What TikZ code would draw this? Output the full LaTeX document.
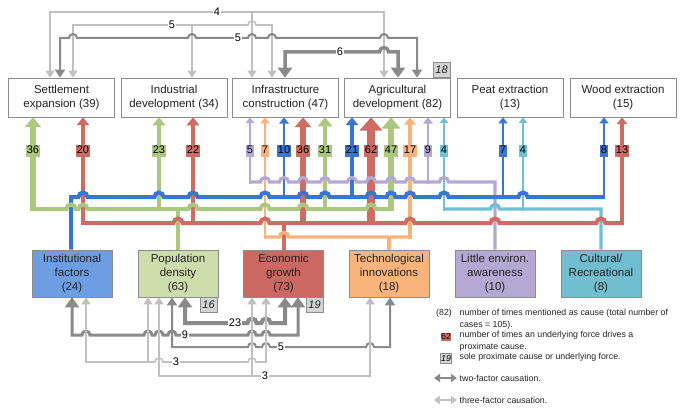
\documentclass[tikz,border=0pt]{standalone}
\usepackage{fontspec}
\setmainfont{Liberation Sans}
\usetikzlibrary{arrows.meta}

\definecolor{cblue}{RGB}{58,118,208}
\definecolor{cgreen}{RGB}{172,199,128}
\definecolor{cred}{RGB}{206,108,100}
\definecolor{corange}{RGB}{249,179,122}
\definecolor{cviolet}{RGB}{182,168,212}
\definecolor{cteal}{RGB}{110,192,210}
\definecolor{fblue}{RGB}{109,158,228}
\definecolor{fgreen}{RGB}{205,222,172}
\definecolor{fred}{RGB}{204,104,98}
\definecolor{forange}{RGB}{249,180,124}
\definecolor{fviolet}{RGB}{182,168,212}
\definecolor{fteal}{RGB}{112,190,208}
\definecolor{boxline}{RGB}{140,140,140}
\definecolor{solefill}{RGB}{212,212,212}
\definecolor{twogray}{RGB}{138,138,138}
\definecolor{threegray}{RGB}{192,192,192}
\definecolor{inktext}{RGB}{35,35,35}

\newcommand\boxfont{\fontsize{11.5}{14.3}\selectfont}
\newcommand\numfont{\fontsize{11}{12}\selectfont}
\newcommand\legfont{\fontsize{8.8}{12.3}\selectfont}

\tikzset{
  ltip/.tip={Triangle[width=9pt,length=7pt]},
  dtip/.tip={Triangle[width=10pt,length=8pt]},
  btip/.tip={Triangle[width=14pt,length=10pt]},
  proxbox/.style={draw=boxline, line width=0.7pt, fill=white, text=inktext,
    minimum width=106pt, minimum height=39pt, inner sep=0pt, align=center, font=\boxfont},
  underbox/.style={draw=boxline, line width=0.7pt, text=inktext,
    minimum width=80pt, minimum height=47pt, inner sep=0pt, align=center, font=\boxfont},
  solebox/.style={draw=boxline, line width=0.6pt, fill=solefill, text=inktext,
    minimum width=17pt, minimum height=15pt, inner sep=0pt, font=\numfont\itshape},
  numlbl/.style={inner xsep=0.7pt, inner ysep=0pt, text height=8.6pt, text depth=2.8pt,
    text=black, font=\numfont},
  glbl/.style={fill=white, inner xsep=0.6pt, inner ysep=0pt, text=black, font=\numfont},
  two/.style={draw=twogray, line width=2pt},
  three/.style={draw=threegray, line width=1.6pt},
  legtxt/.style={inner sep=0pt, align=left, anchor=north west, text=inktext, font=\legfont},
}

\begin{document}
\begin{tikzpicture}[x=1pt,y=1pt,yscale=-1]
\useasboundingbox (0,0) rectangle (683,412);

% proximate causes
\node[proxbox] (se) at (61.5,97.5) {Settlement\\expansion (39)};
\node[proxbox] (id) at (174,97.5) {Industrial\\development (34)};
\node[proxbox] (ic) at (285.5,97.5) {Infrastructure\\construction (47)};
\node[proxbox] (ad) at (397.5,97.5) {Agricultural\\development (82)};
\node[proxbox] (pe) at (510,97.5) {Peat extraction\\(13)};
\node[proxbox] (we) at (623,97.5) {Wood extraction\\(15)};

% underlying forces
\node[underbox, fill=fblue] (inst) at (72,273.5) {Institutional\\factors\\(24)};
\node[underbox, fill=fgreen] (pd) at (178,273.5) {Population\\density\\(63)};
\node[underbox, fill=fred] (eg) at (283.5,273.5) {Economic\\growth\\(73)};
\node[underbox, fill=forange] (ti) at (389,273.5) {Technological\\innovations\\(18)};
\node[underbox, fill=fviolet] (le) at (495,273.5) {Little environ.\\awareness\\(10)};
\node[underbox, fill=fteal] (cr) at (601,273.5) {Cultural/\\Recreational\\(8)};

% arrows from the buses up to the proximate causes
\foreach \x/\yb/\n/\c/\t in {33/209/36/cgreen/se, 83/223/20/cred/se,
    159/209/23/cgreen/id, 193/223/22/cred/id,
    250/182/5/cviolet/ic, 265/237/7/corange/ic, 284/197/10/cblue/ic,
    303/223/36/cred/ic, 325/209/31/cgreen/ic,
    352/197/21/cblue/ad, 371/223/62/cred/ad, 391/209/47/cgreen/ad,
    410/237/17/corange/ad, 428/182/9/cviolet/ad, 444/209/4/cteal/ad,
    503/197/7/cblue/pe, 523/209/4/cteal/pe,
    604/197/8/cblue/we, 622/223/13/cred/we}{
  \pgfmathsetmacro\lw{1.8+0.1*\n}
  \pgfmathsetmacro\tw{2.4*\lw+3}
  \pgfmathsetmacro\tl{0.55*\tw+1}
  \draw[draw=\c, line width=\lw pt, -{Triangle[width=\tw pt,length=\tl pt]}]
    (\x,\yb+1.5) -- (\x,0 |- \t.south);
}

% buses
\draw[cviolet, line width=3.2pt] (250,182)
  \foreach \h in {265,284,303,325,352,371,391,410,444} {-- (\h-4.5,182) arc(180:360:4.5pt)}
  -- (495,182) -- (495,0 |- le.north);
\draw[cblue, line width=4pt] (71,0 |- inst.north) -- (71,197)
  \foreach \h in {83,159,193,265,303,325,371,391,410,444,523} {-- (\h-4.5,197) arc(180:360:4.5pt)}
  -- (604,197);
\draw[cgreen, line width=4pt] (33,209)
  \foreach \h in {71,83,193,265,303,371} {-- (\h-4.5,209) arc(180:360:4.5pt)}
  -- (391,209);
\draw[cgreen, line width=4pt] (178,209) -- (178,0 |- pd.north);
\draw[cteal, line width=3.4pt] (444,209) -- (490.5,209) arc(180:360:4.5pt)
  -- (601,209) -- (601,0 |- cr.north);
\draw[cred, line width=4pt] (83,223)
  \foreach \h in {178,265,410,495,601} {-- (\h-4.5,223) arc(180:360:4.5pt)}
  -- (622,223);
\draw[cred, line width=4pt] (284,223) -- (284,0 |- eg.north);
\draw[corange, line width=3.4pt] (265,237) -- (279.5,237) arc(180:360:4.5pt) -- (410,237);
\draw[corange, line width=3.4pt] (389,237) -- (389,0 |- ti.north);

% counts on the arrows
\foreach \x/\n/\c in {33/36/cgreen, 83/20/cred, 159/23/cgreen, 193/22/cred,
    250/5/cviolet, 265/7/corange, 284/10/cblue, 303/36/cred, 325/31/cgreen,
    352/21/cblue, 371/62/cred, 391/47/cgreen, 410/17/corange, 428/9/cviolet, 444/4/cteal,
    503/7/cblue, 523/4/cteal, 604/8/cblue, 622/13/cred}
  \node[numlbl, fill=\c] (lb\x) at (\x,151) {\n};

% links between proximate causes
\draw[three, ltip-ltip] (50,0 |- se.north) -- (50,12) -- (384,12) -- (384,0 |- ad.north);
\draw[three, -ltip] (252,12) -- (252,0 |- ic.north);
\node[glbl] (top4) at (217,12) {4};
\draw[three, ltip-ltip] (73,0 |- se.north) -- (73,25) -- (248,25) arc(180:360:4pt)
  -- (272,25) -- (272,0 |- ic.north);
\draw[three, -ltip] (192,25) -- (192,0 |- id.north);
\node[glbl] (top5a) at (172,25) {5};
\draw[two, dtip-dtip] (60,0 |- se.north) -- (60,38)
  \foreach \h in {73,192,252,272,384} {-- (\h-4,38) arc(180:360:4pt)}
  -- (417,38) -- (417,0 |- ad.north);
\node[glbl] (top5b) at (238,38) {5};
\draw[two, line width=3.5pt, btip-btip] (285,0 |- ic.north) -- (285,52) -- (379.5,52)
  arc(180:360:4.5pt) -- (398,52) -- (398,0 |- ad.north);
\node[glbl] (top6) at (340,52) {6};

% links between underlying forces
\draw[two, line width=4pt, btip-btip] (185,0 |- pd.south) -- (185,323)
  \foreach \h in {252,266} {-- (\h-4.5,323) arc(180:360:4.5pt)}
  -- (285,323) -- (285,0 |- eg.south);
\node[glbl] (bot23) at (235,323) {23};
\draw[two, line width=3pt, btip-btip] (72,0 |- inst.south) -- (72,335)
  \foreach \h in {86,148,159,172,252,266} {-- (\h-4,335) arc(180:360:4pt)}
  -- (298,335) -- (298,0 |- eg.south);
\node[glbl] (bot9) at (185,335) {9};
\draw[two, dtip-dtip] (172,0 |- pd.south) -- (172,347)
  \foreach \h in {252,266,370} {-- (\h-4,347) arc(180:360:4pt)}
  -- (390,347) -- (390,0 |- ti.south);
\node[glbl] (bot5) at (281,347) {5};
\draw[three, ltip-ltip] (86,0 |- inst.south) -- (86,362)
  \foreach \h in {159,252} {-- (\h-4,362) arc(180:360:4pt)}
  -- (266,362) -- (266,0 |- eg.south);
\draw[three, -ltip] (148,362) -- (148,0 |- pd.south);
\node[glbl] (bot3a) at (176,362) {3};
\draw[three, ltip-ltip] (159,0 |- pd.south) -- (159,376) -- (370,376) -- (370,0 |- ti.south);
\draw[three, -ltip] (252,376) -- (252,0 |- eg.south);
\node[glbl] (bot3b) at (265,376) {3};

% sole causes
\node[solebox] (s18) at (441.5,70) {18};
\node[solebox] (s16) at (208.5,304.5) {16};
\node[solebox] (s19) at (314.5,304.5) {19};

% legend
\node[legtxt] (k82) at (436,308.5) {(82)};
\node[legtxt] (t82) at (459.5,308.5) {number of times mentioned as cause (total number of\\cases = 105).};
\node[fill=cred, inner xsep=0.6pt, inner ysep=0pt, text height=6.8pt, text depth=1.7pt,
  font=\legfont] (k62) at (446,337) {62};
\node[legtxt] (t62) at (459.5,330.5) {number of times an underlying force drives a\\proximate cause.};
\node[draw=boxline, line width=0.6pt, fill=solefill, minimum width=11pt, minimum height=10pt,
  inner sep=0pt, font=\legfont\itshape] (k19) at (446,358) {19};
\node[legtxt] (t19) at (459.5,353) {sole proximate cause or underlying force.};
\coordinate (k2a) at (434,378);
\coordinate (k2b) at (457,378);
\draw[two, line width=2.4pt, {Triangle[width=8pt,length=6pt]}-{Triangle[width=8pt,length=6pt]}] (k2a) -- (k2b);
\node[legtxt, anchor=west] (t2) at (459.5,378) {two-factor causation.};
\coordinate (k3a) at (434,400);
\coordinate (k3b) at (457,400);
\draw[three, line width=2.4pt, {Triangle[width=8pt,length=6pt]}-{Triangle[width=8pt,length=6pt]}] (k3a) -- (k3b);
\node[legtxt, anchor=west] (t3) at (459.5,400) {three-factor causation.};
\end{tikzpicture}
\end{document}
